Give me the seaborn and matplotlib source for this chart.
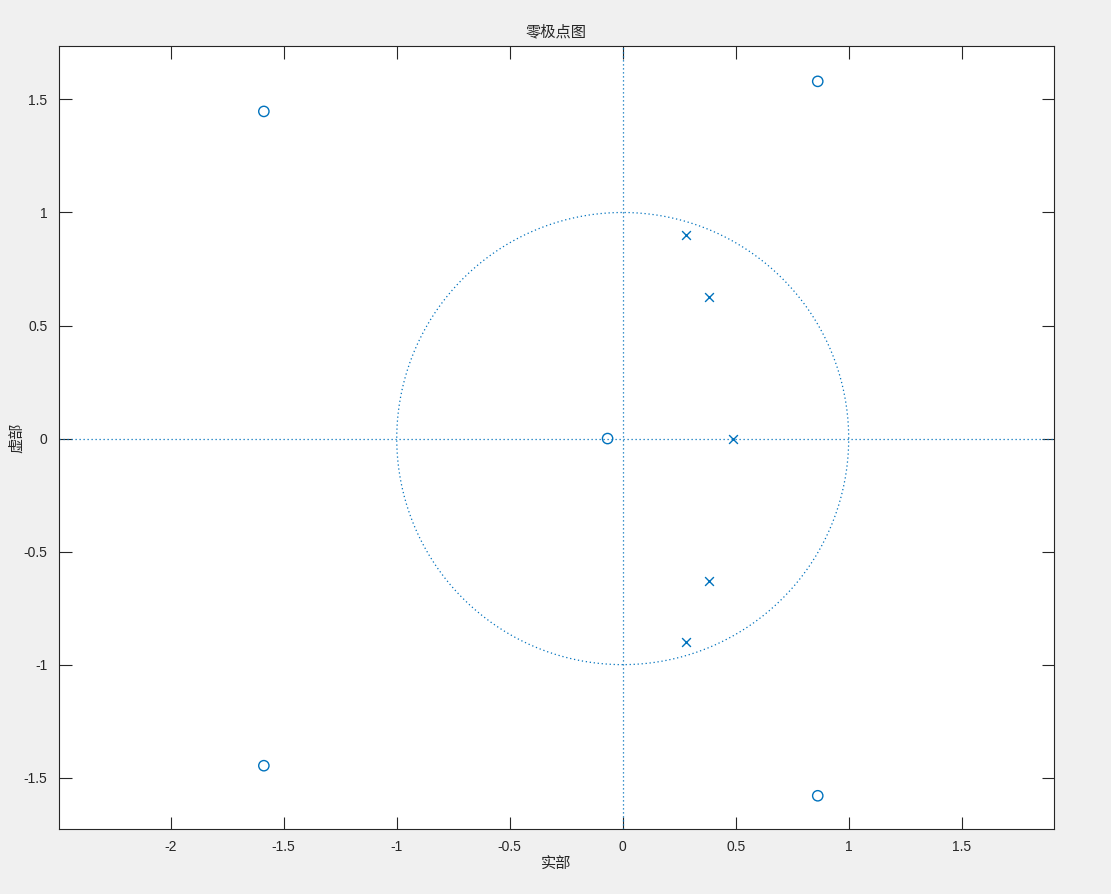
"""Zero-pole plot (MATLAB zplane style) recreated with seaborn."""
import numpy as np
import pandas as pd
import seaborn as sns
import matplotlib.pyplot as plt

# zeros and poles
zeros_re = [-1.588, -1.588, 0.863, 0.863, -0.067]
zeros_im = [1.447, -1.447, 1.580, -1.580, 0.0]
poles_re = [0.278, 0.278, 0.380, 0.380, 0.490]
poles_im = [0.900, -0.900, 0.628, -0.628, 0.0]

x_ticks = [-2, -1.5, -1, -0.5, 0, 0.5, 1, 1.5]
y_ticks = [-1.5, -1, -0.5, 0, 0.5, 1, 1.5]

BLUE = "#0072BD"

sns.set_style("ticks")
plt.rcParams["font.family"] = ["Liberation Sans", "Noto Sans CJK SC", "DejaVu Sans"]

zeros = pd.DataFrame({"re": zeros_re, "im": zeros_im})
poles = pd.DataFrame({"re": poles_re, "im": poles_im})

theta = np.linspace(0, 2 * np.pi, 400)
circle = pd.DataFrame({"re": np.cos(theta), "im": np.sin(theta)})

fig = plt.figure(figsize=(11.11, 8.94), dpi=100, facecolor="#f0f0f0")
ax = fig.add_axes([0.0528, 0.0727, 0.8956, 0.8755])
ax.set_facecolor("white")

# unit circle and axis lines
sns.lineplot(data=circle, x="re", y="im", sort=False, estimator=None,
             color=BLUE, linestyle=(0, (1, 2.2)), linewidth=0.9, ax=ax)
ax.axhline(0, color=BLUE, linestyle=(0, (1, 2.2)), linewidth=0.9)
ax.axvline(0, color=BLUE, linestyle=(0, (1, 2.2)), linewidth=0.9)

sns.scatterplot(data=zeros, x="re", y="im", marker="o", s=55,
                facecolors="none", edgecolor=BLUE, linewidth=1.0, ax=ax, zorder=3)
sns.scatterplot(data=poles, x="re", y="im", marker="x", s=40,
                color=BLUE, linewidth=1.0, ax=ax, zorder=3)

ax.set_xlim(-2.496, 1.907)
ax.set_ylim(-1.727, 1.735)
ax.set_xticks(x_ticks)
ax.set_xticklabels([f"{t:g}" for t in x_ticks])
ax.set_yticks(y_ticks)
ax.set_yticklabels([f"{t:g}" for t in y_ticks])
ax.tick_params(direction="in", length=9, width=0.8, colors="#262626",
               labelsize=10, top=True, right=True, pad=8)
for s in ax.spines.values():
    s.set_color("#262626")
    s.set_linewidth(0.8)

cjk = ["Noto Sans CJK SC", "DejaVu Sans"]
ax.set_title("零极点图", family=cjk, fontsize=11, color="#262626", pad=7)
ax.set_xlabel("实部", family=cjk, fontsize=11, color="#262626")
ax.set_ylabel("虚部", family=cjk, fontsize=11, color="#262626")
ax.xaxis.set_label_coords(0.5, -0.034)
ax.yaxis.set_label_coords(-0.034, 0.5)

fig.savefig("out.png", dpi=100, facecolor=fig.get_facecolor())
